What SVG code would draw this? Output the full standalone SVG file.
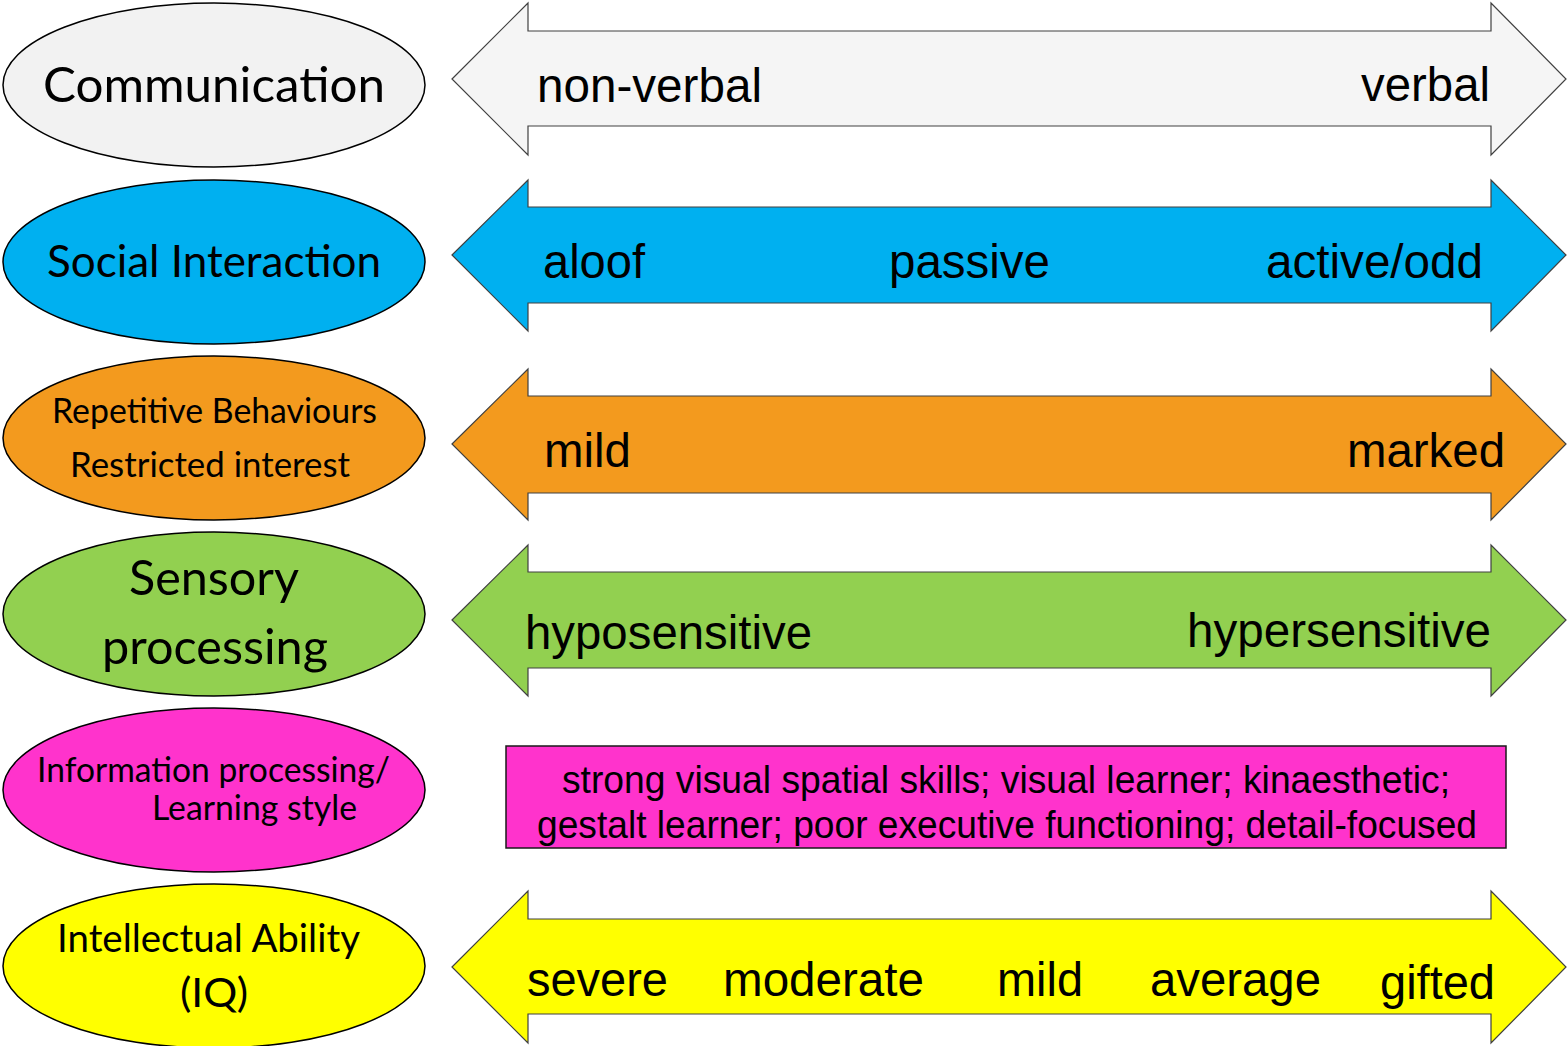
<svg xmlns="http://www.w3.org/2000/svg" width="1567" height="1046" viewBox="0 0 1567 1046">
<style>
.ell{stroke:#000;stroke-width:1.5}
.arr{stroke:#404040;stroke-width:1.2}
.lbl{font-family:"Lato","Open Sans","Liberation Sans",sans-serif;fill:#000}
.at{font-family:"Liberation Sans",Arial,sans-serif;font-size:48px;fill:#000}
.bt{font-family:"Liberation Sans",Arial,sans-serif;font-size:39px;fill:#000}
</style>
<rect width="1567" height="1046" fill="#fff"/>
<g id="node-communication">
<ellipse class="ell" cx="214" cy="85" rx="211" ry="82" fill="#f2f2f2"/>
<text class="lbl" x="43" y="102" font-size="48" textLength="342" lengthAdjust="spacingAndGlyphs">Communication</text>
</g>
<g id="node-social">
<ellipse class="ell" cx="214" cy="262" rx="211" ry="82" fill="#00b0f0"/>
<text class="lbl" x="47" y="277" font-size="44" textLength="334" lengthAdjust="spacingAndGlyphs">Social Interaction</text>
</g>
<g id="node-repetitive">
<ellipse class="ell" cx="214" cy="438" rx="211" ry="82" fill="#f39a1e"/>
<text class="lbl" x="52" y="423" font-size="34" textLength="325" lengthAdjust="spacingAndGlyphs">Repetitive Behaviours</text>
<text class="lbl" x="70" y="477" font-size="34" textLength="280" lengthAdjust="spacingAndGlyphs">Restricted interest</text>
</g>
<g id="node-sensory">
<ellipse class="ell" cx="214" cy="614" rx="211" ry="82" fill="#92d050"/>
<text class="lbl" x="129" y="595" font-size="48" textLength="170" lengthAdjust="spacingAndGlyphs">Sensory</text>
<text class="lbl" x="102" y="664" font-size="48" textLength="226" lengthAdjust="spacingAndGlyphs">processing</text>
</g>
<g id="node-information">
<ellipse class="ell" cx="214" cy="790" rx="211" ry="82" fill="#ff33cc"/>
<text class="lbl" x="37" y="782" font-size="34" textLength="353" lengthAdjust="spacingAndGlyphs">Information processing/</text>
<text class="lbl" x="152" y="820" font-size="34" textLength="205" lengthAdjust="spacingAndGlyphs">Learning style</text>
</g>
<g id="node-intellectual">
<ellipse class="ell" cx="214" cy="966" rx="211" ry="82" fill="#ffff00"/>
<text class="lbl" x="57" y="952" font-size="38" textLength="303" lengthAdjust="spacingAndGlyphs">Intellectual Ability</text>
<text class="lbl" x="180" y="1007" font-size="40" textLength="68" lengthAdjust="spacingAndGlyphs">(IQ)</text>
</g>
<g id="connectors">
<g id="arrow-communication">
<polygon class="arr" fill="#f5f5f5" points="452,79 528,3 528,31 1491,31 1491,3 1566,79 1491,155 1491,126 528,126 528,155"/>
<text class="at" x="537" y="102" textLength="225" lengthAdjust="spacingAndGlyphs">non-verbal</text>
<text class="at" x="1361" y="101" textLength="129" lengthAdjust="spacingAndGlyphs">verbal</text>
</g>
<g id="arrow-social">
<polygon class="arr" fill="#00b0f0" points="452,255 528,180 528,207 1491,207 1491,180 1566,255 1491,331 1491,303 528,303 528,331"/>
<text class="at" x="543" y="278" textLength="102" lengthAdjust="spacingAndGlyphs">aloof</text>
<text class="at" x="889" y="278" textLength="161" lengthAdjust="spacingAndGlyphs">passive</text>
<text class="at" x="1266" y="278" textLength="217" lengthAdjust="spacingAndGlyphs">active/odd</text>
</g>
<g id="arrow-repetitive">
<polygon class="arr" fill="#f39a1e" points="452,444 528,369 528,396 1491,396 1491,369 1566,444 1491,520 1491,493 528,493 528,520"/>
<text class="at" x="544" y="467" textLength="87" lengthAdjust="spacingAndGlyphs">mild</text>
<text class="at" x="1347" y="467" textLength="158" lengthAdjust="spacingAndGlyphs">marked</text>
</g>
<g id="arrow-sensory">
<polygon class="arr" fill="#92d050" points="452,620 528,545 528,572 1491,572 1491,545 1566,620 1491,696 1491,668 528,668 528,696"/>
<text class="at" x="525" y="649" textLength="287" lengthAdjust="spacingAndGlyphs">hyposensitive</text>
<text class="at" x="1187" y="647" textLength="304" lengthAdjust="spacingAndGlyphs">hypersensitive</text>
</g>
<g id="box-learning">
<rect x="506" y="746" width="1000" height="102" fill="#ff33cc" stroke="#1a1a1a" stroke-width="1.5"/>
<text class="bt" x="562" y="793" textLength="888" lengthAdjust="spacingAndGlyphs">strong visual spatial skills; visual learner; kinaesthetic;</text>
<text class="bt" x="537" y="838" textLength="940" lengthAdjust="spacingAndGlyphs">gestalt learner; poor executive functioning; detail-focused</text>
</g>
<g id="arrow-intellectual">
<polygon class="arr" fill="#ffff00" points="452,967 528,891 528,919 1491,919 1491,891 1566,967 1491,1043 1491,1014 528,1014 528,1043"/>
<text class="at" x="527" y="996" textLength="141" lengthAdjust="spacingAndGlyphs">severe</text>
<text class="at" x="723" y="996" textLength="201" lengthAdjust="spacingAndGlyphs">moderate</text>
<text class="at" x="997" y="996" textLength="86" lengthAdjust="spacingAndGlyphs">mild</text>
<text class="at" x="1150" y="996" textLength="171" lengthAdjust="spacingAndGlyphs">average</text>
<text class="at" x="1380" y="999" textLength="115" lengthAdjust="spacingAndGlyphs">gifted</text>
</g>
</g>
</svg>
